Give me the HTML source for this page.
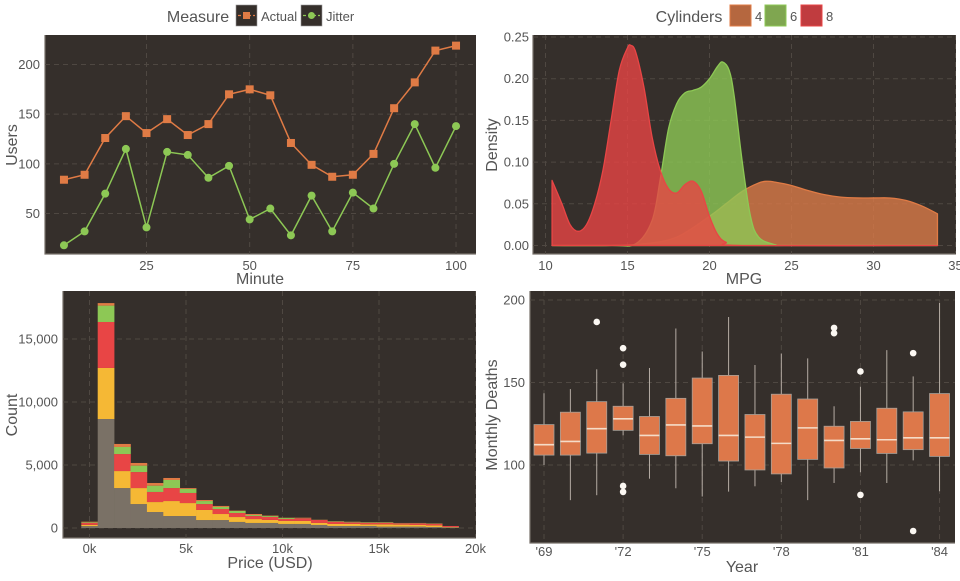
<!DOCTYPE html>
<html><head><meta charset="utf-8"><style>
body{margin:0;background:#fff;font-family:"Liberation Sans",sans-serif}
svg text{font-family:"Liberation Sans",sans-serif}
</style></head><body>
<svg id="s" width="960" height="576" xmlns="http://www.w3.org/2000/svg"></svg>
<script>
// ---- Panel 1 data
const minutes=[5,10,15,20,25,30,35,40,45,50,55,60,65,70,75,80,85,90,95,100];
const actualUsers=[84,89,126,148,131,145,129,140,170,175,169,121,99,87,89,110,156,182,214,219];
const jitterUsers=[18,32,70,115,36,112,109,86,98,44,55,28,68,32,71,55,100,140,96,138];
const p1XTicks=[25,50,75,100];
const p1YTicks=[50,100,150,200];
// ---- Panel 2 data
const mpg4X=[10.4,14,16,18,20,21,22,23,23.5,24,25,26,27,28,29,30,31,32,33,33.9];
const mpg4Y=[0,0,0.002,0.01,0.035,0.05,0.065,0.075,0.077,0.076,0.072,0.066,0.061,0.058,0.057,0.057,0.057,0.054,0.047,0.038];
const mpg6X=[10.4,14,15.5,16.5,17,17.5,18,18.5,19,19.5,20,20.5,20.8,21.2,21.5,22,22.5,23,24,25,33.9];
const mpg6Y=[0,0,0.002,0.03,0.08,0.14,0.17,0.183,0.186,0.19,0.2,0.215,0.22,0.21,0.18,0.1,0.035,0.01,0.001,0,0];
const mpg8X=[10.4,11,11.5,12,12.5,13,13.5,14,14.5,15,15.2,15.5,16,16.5,17,17.5,18,18.5,19,19.5,20,20.5,21,22,33.9];
const mpg8Y=[0.078,0.05,0.025,0.017,0.025,0.05,0.09,0.15,0.21,0.237,0.24,0.232,0.19,0.13,0.09,0.068,0.063,0.073,0.077,0.065,0.035,0.013,0.004,0,0];
const p2XTicks=[10,15,20,25,30,35];
const p2YTicks=[0,0.05,0.1,0.15,0.2,0.25];
// ---- Panel 3 data (bin centers in k USD, stacked counts)
const binCenters=[0,0.85,1.7,2.55,3.4,4.25,5.1,5.95,6.8,7.65,8.5,9.35,10.2,11.05,11.9,12.75,13.6,14.45,15.3,16.15,17,17.85,18.7];
const cntGray=[150,8650,3170,1900,1270,950,950,630,630,480,400,400,320,320,240,160,160,160,110,110,110,80,50];
const cntYellow=[100,4050,1350,1270,790,1190,1030,800,480,390,310,240,240,240,160,160,160,130,180,160,130,130,30];
const cntRed=[150,3650,1350,1270,800,1030,800,470,400,320,240,240,160,220,240,180,130,130,130,100,130,130,80];
const cntGreen=[50,1300,560,510,500,640,320,240,160,160,80,80,80,20,10,40,40,40,40,20,20,20,0];
const cntOrange=[50,200,240,210,210,160,70,80,80,30,80,30,20,20,10,10,10,10,10,10,10,10,0];
const p3XTicks=[0,5,10,15,20];
const p3XLabels=["0k","5k","10k","15k","20k"];
const p3YTicks=[0,5000,10000,15000];
const p3YLabels=["0","5,000","10,000","15,000"];
// ---- Panel 4 data
const years=[1969,1970,1971,1972,1973,1974,1975,1976,1977,1978,1979,1980,1981,1982,1983,1984];
const whLo=[100,78.7,81.7,118,91.7,85.9,80.9,83.9,87.1,89.7,78.7,89.1,95.6,89.1,102.8,84.1];
const q1=[106,106,107.2,121,106.4,105.6,112.9,102.4,97,94.6,103.4,98.2,110,107,109.3,105.2];
const med=[112.3,114.3,122,128,117.9,124.3,123.7,117.9,116.9,113.1,122.5,114.9,115.9,115.3,116.5,116.5];
const q3=[124.5,132,138.4,135.6,129.4,140.4,152.7,154.3,130.6,142.9,140,123.5,126.4,134.4,132.2,143.3];
const whHi=[143.5,146,158,149.5,158.8,182.7,168.8,189.7,160.6,167.6,164.6,135.6,147.5,169.6,153.7,198.2];
const outYears=[1971,1972,1972,1972,1972,1980,1980,1981,1981,1983,1983];
const outVals=[186.7,170.8,160.8,87.3,83.7,183.1,179.9,156.7,81.9,167.8,60];
const p4XTicks=[1969,1972,1975,1978,1981,1984];
const p4XLabels=["'69","'72","'75","'78","'81","'84"];
const p4YTicks=[100,150,200];

const S=document.getElementById('s');const NS='http://www.w3.org/2000/svg';
function mk(tag,attrs,parent){const e=document.createElementNS(NS,tag);for(const k in attrs)e.setAttribute(k,attrs[k]);(parent||S).appendChild(e);return e;}
function txt(str,x,y,size,anchor,parent,rot){const e=mk('text',{x:x,y:y,'font-size':size,fill:'#555','text-anchor':anchor||'middle'},parent);if(rot)e.setAttribute('transform','rotate(-90 '+x+' '+y+')');e.textContent=str;return e;}
function panel(x0,y0,x1,y1,name){const g=mk('g',{});
 const r=mk('rect',{x:x0,y:y0,width:x1-x0,height:y1-y0,fill:'#352f2b'},g);
 mk('path',{d:'M'+x0+' '+y0+'V'+y1+'H'+x1,stroke:'#77706a','stroke-width':1.2,fill:'none'},g);return g;}
function gridV(g,x,y0,y1){mk('line',{x1:x,x2:x,y1:y0,y2:y1,stroke:'#4f4842','stroke-width':1,'stroke-dasharray':'5,4'},g);}
function gridH(g,y,x0,x1){mk('line',{x1:x0,x2:x1,y1:y,y2:y,stroke:'#4f4842','stroke-width':1,'stroke-dasharray':'5,4'},g);}
function smooth(P){let d='L'+P[0][0]+','+P[0][1];for(let i=0;i<P.length-1;i++){const p0=P[i-1]||P[i],p1=P[i],p2=P[i+1],p3=P[i+2]||p2;
 const c1=[p1[0]+(p2[0]-p0[0])/6,p1[1]+(p2[1]-p0[1])/6],c2=[p2[0]-(p3[0]-p1[0])/6,p2[1]-(p3[1]-p1[1])/6];
 d+=' C'+c1[0]+','+c1[1]+' '+c2[0]+','+c2[1]+' '+p2[0]+','+p2[1];}return d;}

// ===== Panel 1
(function(){const X0=45,X1=476,Y0=35,Y1=254;
const sx=v=>146.5+(v-25)*4.127, sy=v=>213.5-(v-50)*0.9933;
const g=panel(X0,Y0,X1,Y1,'users-line-chart');
p1XTicks.forEach(t=>{gridV(g,sx(t),Y0,Y1);const l=txt(t,sx(t),270,13,'middle',g);});
p1YTicks.forEach(t=>{gridH(g,sy(t),X0,X1);const l=txt(t,40,sy(t)+4.5,13,'end',g);});
const t1=txt('Minute',260,284,16,'middle',g);
const t2=txt('Users',17,145,16,'middle',g,true);
const la=mk('polyline',{points:minutes.map((m,i)=>sx(m)+','+sy(actualUsers[i])).join(' '),fill:'none',stroke:'#e07b45','stroke-width':1.5},g);

const lj=mk('polyline',{points:minutes.map((m,i)=>sx(m)+','+sy(jitterUsers[i])).join(' '),fill:'none',stroke:'#8dc855','stroke-width':1.5},g);

minutes.forEach((m,i)=>{const r=mk('rect',{x:sx(m)-4,y:sy(actualUsers[i])-4,width:8,height:8,fill:'#e07b45'},g);
 const c=mk('circle',{cx:sx(m),cy:sy(jitterUsers[i]),r:4,fill:'#8dc855'},g);});
const lg=mk('g',{});
txt('Measure',198,22,16,'middle',lg);
[[236,'Actual','#e07b45',0],[301,'Jitter','#8dc855',1]].forEach(d=>{const e=mk('g',{},lg);
 mk('rect',{x:d[0],y:5,width:21,height:21,fill:'#352f2b',stroke:'#999','stroke-width':0.6},e);
 mk('line',{x1:d[0]+2,x2:d[0]+19,y1:15.5,y2:15.5,stroke:d[2],'stroke-width':1.3,'stroke-dasharray':'3,2'},e);
 if(d[3])mk('circle',{cx:d[0]+10.5,cy:15.5,r:3.5,fill:d[2]},e);else mk('rect',{x:d[0]+7,y:12,width:7,height:7,fill:d[2]},e);
 txt(d[1],d[0]+25,21,13,'start',e);});
})();

// ===== Panel 2
(function(){const X0=533,X1=956,Y0=35,Y1=254;
const sx=v=>545.5+(v-10)*16.4, sy=v=>245.5-v*834;
const g=panel(X0,Y0,X1,Y1,'mpg-density-chart');
p2XTicks.forEach(t=>{gridV(g,sx(t),Y0,Y1);const l=txt(t,sx(t),270,13,'middle',g);});
p2YTicks.forEach(t=>{gridH(g,sy(t),X0,X1);const l=txt(t.toFixed(2),529,sy(t)+4.5,13,'end',g);});
const t1=txt('MPG',744,284,16,'middle',g);
const t2=txt('Density',497,145,16,'middle',g,true);
function area(xs,ys,fill,stroke,name){const P=xs.map((x,i)=>[sx(x),sy(ys[i])]);
 const d='M'+sx(xs[0])+','+sy(0)+' '+smooth(P)+' L'+sx(xs[xs.length-1])+','+sy(0)+'Z';
 const p=mk('path',{d:d,fill:fill,'fill-opacity':0.8,stroke:stroke,'stroke-width':1.3,'stroke-linejoin':'round'},g);}
area(mpg4X,mpg4Y,'#d97b48','#e07b45','density-4-cyl');
area(mpg6X,mpg6Y,'#8dc855','#8dc855','density-6-cyl');
area(mpg8X,mpg8Y,'#e84545','#e84545','density-8-cyl');
const lg=mk('g',{});
txt('Cylinders',689,22,16,'middle',lg);
[[730,'4','#b5673f','#e07b45'],[765,'6','#7fa650','#8dc855'],[801,'8','#c03c3f','#e84545']].forEach(d=>{const e=mk('g',{},lg);
 mk('rect',{x:d[0],y:5,width:21,height:21,fill:d[2],stroke:d[3],'stroke-width':1},e);txt(d[1],d[0]+25,21,13,'start',e);});
})();

// ===== Panel 3
(function(){const X0=63,X1=476,Y0=291,Y1=538;
const sx=v=>89.5+v*19.3, sy=v=>528-v*0.0126, bw=0.85*19.3;
const g=panel(X0,Y0,X1,Y1,'price-histogram');
p3XTicks.forEach((t,i)=>{gridV(g,sx(t),Y0,Y1);const l=txt(p3XLabels[i],sx(t),553,13,'middle',g);});
p3YTicks.forEach((t,i)=>{gridH(g,sy(t),X0,X1);const l=txt(p3YLabels[i],58,sy(t)+4.5,13,'end',g);});
const t1=txt('Price (USD)',270,568,16,'middle',g);
const t2=txt('Count',17,415,16,'middle',g,true);
const series=[[cntGray,'#7a7166','gray'],[cntYellow,'#f5b835','yellow'],[cntRed,'#e84545','red'],[cntGreen,'#8dc855','green'],[cntOrange,'#e07b45','orange']];
binCenters.forEach((c,i)=>{let base=0;series.forEach(s=>{const v=s[0][i];if(v<=0)return;
 const r=mk('rect',{x:sx(c)-bw/2,y:sy(base+v),width:bw+0.3,height:sy(base)-sy(base+v),fill:s[1]},g);
 base+=v;});});
})();

// ===== Panel 4
(function(){const X0=530,X1=955,Y0=291,Y1=543;
const sx=v=>544+(v-1969)*26.37, sy=v=>465-(v-100)*1.65, bw=20;
const g=panel(X0,Y0,X1,Y1,'deaths-boxplot');
p4XTicks.forEach((t,i)=>{gridV(g,sx(t),Y0,Y1);const l=txt(p4XLabels[i],sx(t),556,13,'middle',g);});
p4YTicks.forEach(t=>{gridH(g,sy(t),X0,X1);const l=txt(t,525,sy(t)+4.5,13,'end',g);});
const t1=txt('Year',742,572,16,'middle',g);
const t2=txt('Monthly Deaths',497,415,16,'middle',g,true);
years.forEach((y,i)=>{const x=sx(y);const b=mk('g',{},g);
 mk('line',{x1:x,x2:x,y1:sy(whLo[i]),y2:sy(whHi[i]),stroke:'#b5aca4','stroke-width':1},b);
 mk('rect',{x:x-bw/2,y:sy(q3[i]),width:bw,height:sy(q1[i])-sy(q3[i]),fill:'#dd784a',stroke:'#a8a098','stroke-width':0.8},b);
 mk('line',{x1:x-bw/2,x2:x+bw/2,y1:sy(med[i]),y2:sy(med[i]),stroke:'#f5dcc8','stroke-width':1.6},b);});
outYears.forEach((y,i)=>{const c=mk('circle',{cx:sx(y),cy:sy(outVals[i]),r:3.3,fill:'#fbf7f2'},g);});
})();
</script>
</body></html>
